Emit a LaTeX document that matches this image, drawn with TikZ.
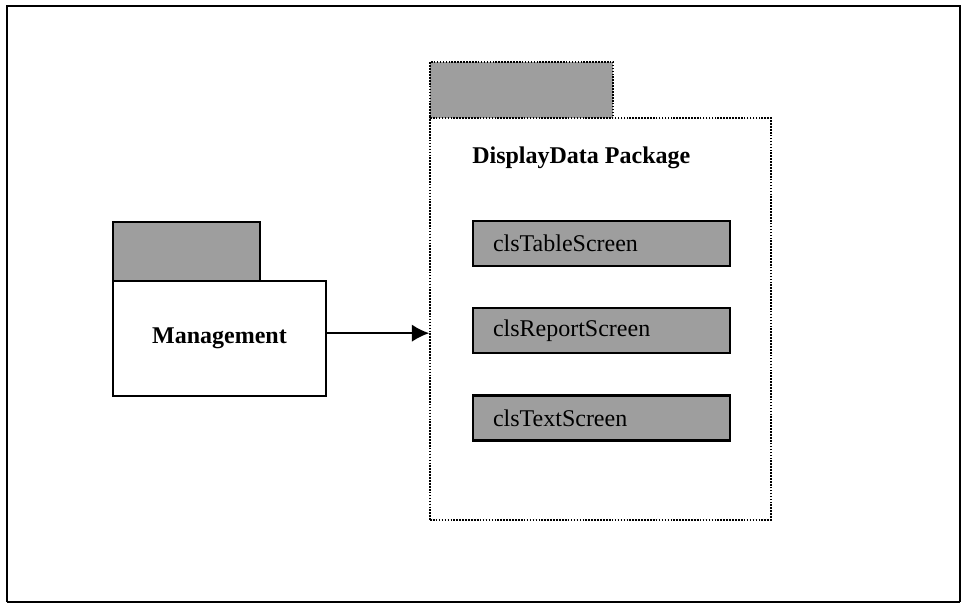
\documentclass[tikz,border=0pt]{standalone}
\usepackage{fontspec}
\setmainfont{Liberation Serif}
\usetikzlibrary{arrows.meta}

\begin{document}
\begin{tikzpicture}[x=0.75pt, y=-0.75pt]
\tikzset{
  TabStyle/.style = {fill=black!38, draw=black, line width=1.2pt, minimum height=43pt},
  PkgStyle/.style = {fill=white, draw=black, line width=1.2pt, font=\bfseries},
  ClsStyle/.style = {fill=black!38, draw=black, line width=1.6pt,
                     minimum height=33.75pt, text width=162.75pt,
                     inner xsep=15pt, align=left},
  LinkStyle/.style = {-{Latex[length=13pt, width=13pt]}, line width=1.4pt},
  dots/.style = {dash pattern=on 1.2pt off 1pt},
}
\fontsize{18}{21}\selectfont

  \useasboundingbox (0,0) rectangle (961,603);
  \draw[line width=2pt] (7,602) -- (7,6) -- (960,6) -- (960,602);
  \draw[line width=1.5pt] (7,602) -- (960,602);

  % Management package
  \node[TabStyle, minimum width=110.25pt, minimum height=44.25pt] (mgmttab) at (186.5,251.5) {};
  \node[PkgStyle, minimum width=159.75pt, minimum height=86.25pt] (mgmt) at (219.5,338.5) {Management};

  % DisplayData package
  \node[TabStyle, dots, minimum width=137.25pt, minimum height=42pt] (pkgtab) at (521.5,90) {};
  \node[PkgStyle, dots, minimum width=255.75pt, minimum height=301.5pt] (pkg) at (600.5,319) {};
  \node[font=\bfseries, anchor=west, inner sep=0pt] (pkgname) at (472,158) {DisplayData Package};

  \node[ClsStyle] (table) at (601.5,243.5) {clsTableScreen};
  \node[ClsStyle] (report) at (601.5,330.5) {clsReportScreen};
  \node[ClsStyle] (text) at (601.5,418) {clsTextScreen};

  \draw[LinkStyle] ([yshift=4pt]mgmt.east) -- ([yshift=4pt]mgmt.east -| pkg.west);

\end{tikzpicture}
\end{document}
